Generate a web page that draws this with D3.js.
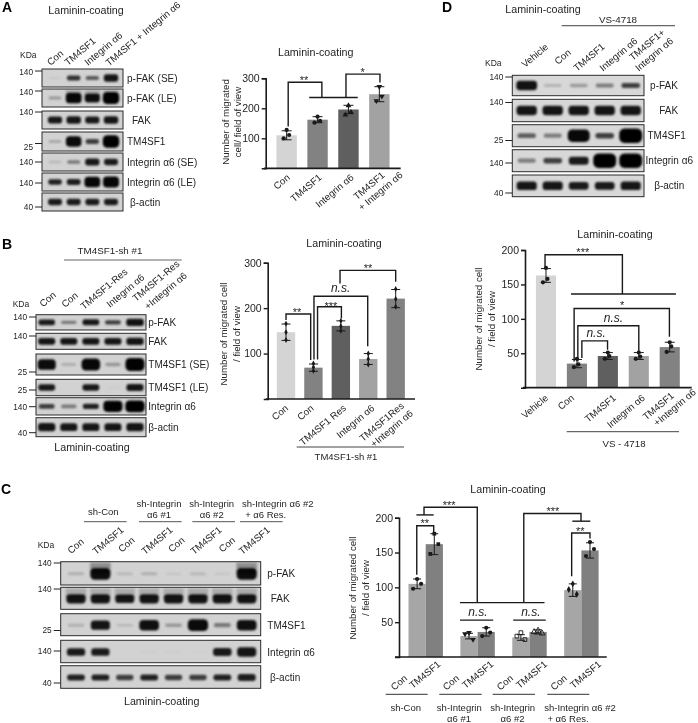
<!DOCTYPE html>
<html>
<head>
<meta charset="utf-8">
<script src="https://cdn.jsdelivr.net/npm/d3@7"></script>
<style>
  html, body { margin: 0; padding: 0; background: #fff; }
  svg { display: block; }
  text { font-family: "Liberation Sans", Arial, sans-serif; fill: #222; opacity: .99; }
</style>
</head>
<body>
<div id="fig"></div>
<script>
// ---- data ----
const aCats = ["Con", "TM4SF1", "Integrin α6", "TM4SF1|+ Integrin α6"];
const aMeans = [110, 162, 196, 247];
const aSds = [15, 10, 14, 25];
const aPoints = [[128, 111, 100], [172, 158, 152], [209, 187, 178], [272, 240, 225]];
const aTicks = [100, 200, 300];

const bCats = ["Con", "Con", "TM4SF1 Res", "Integrin α6", "TM4SF1Res|+Integrin α6"];
const bMeans = [147, 69, 161, 88, 221];
const bSds = [18, 8, 11, 12, 20];
const bPoints = [[166, 147, 130], [78, 70, 62], [172, 160, 150], [100, 88, 76], [242, 220, 203]];
const bTicks = [100, 200, 300];

const dCats = ["Vehicle", "Con", "TM4SF1", "Integrin α6", "TM4SF1|+Integrin α6"];
const dMeans = [163, 35, 46, 46, 59];
const dSds = [10, 6, 5, 5, 7];
const dPoints = [[174, 158, 153], [42, 34, 30], [51, 46, 42], [51, 45, 42], [66, 60, 52]];
const dTicks = [50, 100, 150, 200];

const cGroups = ["sh-Con", "sh-Integrin α6 #1", "sh-Integrin α6 #2", "sh-Integrin α6 #2 + α6 Res."];
const cCats = ["Con", "TM4SF1"];
const cMeans = [105, 162, 30, 36, 28, 36, 96, 153];
const cSds = [7, 15, 4, 6, 4, 3, 9, 11];
const cPoints = [[112, 105, 98], [177, 162, 148], [35, 25, 33], [42, 35, 30], [35, 25, 30], [38, 34, 36], [105, 90, 97], [165, 155, 145]];
const cTicks = [50, 100, 150, 200];

// band strength per lane, 0 = nothing, 1 = saturated
const aBlotNames = ["p-FAK (SE)", "p-FAK (LE)", "FAK", "TM4SF1", "Integrin α6 (SE)", "Integrin α6 (LE)", "β-actin"];
const aBands = [
  [.03, .32, .25, .55], [.15, .85, .7, 1], [.5, .55, .5, .55], [.12, .8, .3, 1],
  [.08, .2, .5, .45], [.35, .4, .85, .9], [.45, .45, .45, .45]];
const aKda = ["140", "140", "140", "25", "140", "140", "40"];

const bBlotNames = ["p-FAK", "FAK", "TM4SF1 (SE)", "TM4SF1 (LE)", "Integrin α6", "β-actin"];
const bBands = [
  [.45, .2, .5, .3, .65], [.55, .55, .55, .55, .6], [.75, .1, .85, .15, .95],
  [.5, 0, .5, .02, .55], [.3, .2, .35, .95, 1], [.6, .55, .55, .55, .6]];
const bKda = ["140", "140", "25", "25", "140", "40"];

const dBlotNames = ["p-FAK", "FAK", "TM4SF1", "Integrin α6", "β-actin"];
const dBands = [
  [.65, .1, .15, .2, .3], [.6, .6, .6, .6, .6], [.25, .2, .85, .3, 1],
  [.2, .3, .5, 1, 1], [.55, .55, .5, .5, .55]];
const dKda = ["140", "140", "25", "140", "40"];

const cBlotNames = ["p-FAK", "FAK", "TM4SF1", "Integrin α6", "β-actin"];
const cBands = [
  [.1, .75, .08, .1, .04, .08, .04, .75], [.6, .6, .55, .6, .6, .6, .6, .6],
  [.1, .6, .08, .7, .15, .8, .2, .7], [.45, .45, 0, .02, .02, .01, .5, .6],
  [.35, .35, .3, .35, .3, .3, .35, .4]];
const cKda = ["140", "140", "25", "140", "40"];
const cHalo = [[0, .7, 0, 0, 0, 0, 0, .7], [.4, .4, .4, .4, .4, .4, .4, .4]];

// brackets, as lists of [bar position, value]
const aBrackets = [
  [[.05, 139], [.05, 287], [1.14, 287], [1.14, 236]],
  [[.73, 236], [2.3, 236]],
  [[1.92, 236], [1.92, 314], [3.02, 314], [3.02, 286]]];
const aMarks = [[.56, 305, "**"], [2.46, 332, "*"]];

const bBrackets = [
  [[0, 174], [0, 187], [.9, 187], [.9, 86]],
  [[1.15, 87], [1.15, 203], [2.02, 203], [2.02, 177]],
  [[1.02, 87], [1.02, 226], [2.98, 226], [2.98, 116]],
  [[1.97, 254], [1.97, 283], [4, 283], [4, 258]]];
const bMarks = [[.4, 198.5, "**"], [1.64, 210, "***"], [1.99, 242, "n.s."], [2.99, 295, "**"]];

const dBrackets = [
  [[-.03, 176], [-.03, 193], [2.47, 193], [2.47, 136]],
  [[.81, 136], [4.2, 136]],
  [[.91, 38], [.91, 115], [3.99, 115], [3.99, 74]],
  [[1.03, 38], [1.03, 90], [3, 90], [3, 53]],
  [[1.16, 43], [1.16, 68], [1.99, 68], [1.99, 55]]];
const dMarks = [[1.19, 201, "***"], [2.46, 123.5, "*"], [2.18, 100, "n.s."], [1.62, 77.5, "n.s."]];

const cBrackets = [
  [[-.02, 118], [-.02, 188.5], [.96, 188.5], [.96, 178]],
  [[-.04, 204], [.96, 204]],
  [[.4, 204], [.4, 215], [3.48, 215], [3.48, 78]],
  [[2.48, 78], [7.37, 78]],
  [[6.17, 78], [6.17, 206], [9.48, 206], [9.48, 195]],
  [[8.98, 195], [10.02, 195]],
  [[8.94, 116], [8.94, 178], [10, 178], [10, 170]],
  [[2.48, 53], [4.4, 53]],
  [[5.56, 53], [7.44, 53]]];
const cMarks = [[1.85, 223, "***"], [.44, 196, "**"], [7.85, 213, "***"], [9.44, 185, "**"], [3.52, 63, "n.s."], [6.58, 63, "n.s."]];

// ---- drawing ----
const svg = d3.select("#fig").append("svg").attr("width", 698).attr("height", 723);
const defs = svg.append("defs");
defs.append("filter").attr("id", "blur").attr("x", "-30%").attr("y", "-60%").attr("width", "160%").attr("height", "220%")
  .append("feGaussianBlur").attr("stdDeviation", 0.8);

const ink = "#1a1a1a";

function txt(x, y, s, o) {
  o = o || {};
  let t = svg.append("text")
    .attr("x", x).attr("y", y)
    .attr("font-size", o.size || 10)
    .attr("text-anchor", o.anchor || "start")
    .text(s);
  if (o.rot) t.attr("transform", "rotate(" + o.rot + "," + x + "," + y + ")");
  if (o.mid) t.attr("dy", ".35em");
  if (o.weight) t.attr("font-weight", o.weight);
  return t;
}

function hline(x0, x1, y, color, w) {
  svg.append("line").attr("x1", x0).attr("x2", x1).attr("y1", y).attr("y2", y)
    .attr("stroke", color || "#555").attr("stroke-width", w || 1);
}

const alpha = d3.scaleLinear().domain([0, .12, .35, 1]).range([0, .2, .85, 1]);

function blot(o) {
  let lane = d3.scalePoint().domain(d3.range(o.bands[0].length)).range([o.lane0, o.lane1]);
  let step = lane.step();
  o.rows.forEach((r, i) => {
    let h = r[1] - r[0];
    let g = svg.append("g");
    g.append("rect").attr("x", o.left).attr("y", r[0]).attr("width", o.right - o.left).attr("height", h)
      .attr("fill", o.bg || "#d2d2d2");
    let cy = (r[0] + r[1]) / 2 + (o.shift || 0);
    let bandG = g.append("g").attr("filter", "url(#blur)");
    // smear above the strong bands
    if (o.halo && o.halo[i]) {
      bandG.selectAll(".halo").data(o.halo[i]).join("rect").attr("class", "halo")
        .attr("x", (d, j) => lane(j) - step * .42).attr("width", step * .84)
        .attr("y", r[0] + 1).attr("height", h * .5)
        .attr("fill", "#333").attr("opacity", d => d * .6);
    }
    bandG.selectAll(".band").data(o.bands[i]).join("rect").attr("class", "band")
      .attr("x", (d, j) => lane(j) - step * (.32 + .12 * d))
      .attr("width", d => step * (.64 + .24 * d))
      .attr("y", d => cy - (.8 + d * h * .29))
      .attr("height", d => 1.6 + d * h * .58)
      .attr("rx", d => .8 + d * h * .2)
      .attr("fill", "#000")
      .attr("opacity", d => alpha(d));
    g.append("rect").attr("x", o.left).attr("y", r[0]).attr("width", o.right - o.left).attr("height", h)
      .attr("fill", "none").attr("stroke", "#2b2b2b").attr("stroke-width", 1);
    // row name
    txt(o.nameX[i], cy, o.names[i], { size: 10, mid: true, anchor: o.nameAnchor || "start" });
    // kDa marker
    hline(o.left - o.tick, o.left, o.kdaY[i], "#222", 1);
    txt(o.left - o.tick - 2, o.kdaY[i] + (o.kdaDy ? o.kdaDy[i] : 0), o.kda[i], { size: 8.3, mid: true, anchor: "end" });
  });
  txt(o.kdaLabel[0], o.kdaLabel[1], "KDa", { size: 8.5, mid: true });
}

function heads(list, rot) {
  list.forEach(d => txt(d[0], d[1], d[2], { size: 9.7, rot: rot || -40 }));
}

function barChart(o) {
  let y = d3.scaleLinear().domain([0, o.yMax]).range([o.y0, o.y1]);
  let pos = o.pos;
  let g = svg.append("g");

  g.selectAll(".bar").data(o.means).join("rect").attr("class", "bar")
    .attr("x", (d, i) => o.center(i) - o.barW / 2)
    .attr("width", o.barW)
    .attr("y", d => y(d))
    .attr("height", d => y(0) - y(d))
    .attr("fill", (d, i) => o.colors[i]);

  // error bars
  o.means.forEach((m, i) => {
    let cx = o.center(i);
    let lo = y(m - o.sds[i]), hi = y(m + o.sds[i]);
    let e = g.append("g").attr("stroke", ink).attr("stroke-width", 1);
    e.append("line").attr("x1", cx).attr("x2", cx).attr("y1", lo).attr("y2", hi);
    e.append("line").attr("x1", cx - o.cap).attr("x2", cx + o.cap).attr("y1", lo).attr("y2", lo);
    e.append("line").attr("x1", cx - o.cap).attr("x2", cx + o.cap).attr("y1", hi).attr("y2", hi);
    // points
    o.points[i].forEach((v, k) => {
      let sym = o.symbols ? o.symbols[i] : d3.symbolCircle;
      let open = o.open && o.open[i];
      g.append("path")
        .attr("d", d3.symbol().type(sym).size(o.ptSize || 14)())
        .attr("transform", "translate(" + (cx + o.jitter[k]) + "," + y(v) + ")" + (o.flip && o.flip[i] ? " rotate(180)" : ""))
        .attr("fill", open ? "none" : ink)
        .attr("stroke", ink).attr("stroke-width", open ? 0.9 : 0);
    });
  });

  // axes
  let yAxis = d3.axisLeft(y).tickValues(o.ticks).tickSize(4).tickPadding(2);
  let ag = svg.append("g").attr("transform", "translate(" + o.axisX + ",0)").call(yAxis);
  ag.select(".domain").attr("stroke", ink).attr("stroke-width", 1.6);
  ag.selectAll(".tick line").attr("stroke", ink).attr("stroke-width", 1.4);
  ag.selectAll("text").attr("font-size", 10.5).attr("font-family", null).attr("fill", "#222");
  hline(o.baseL, o.baseR, y(0), ink, 1.7);

  // category labels
  o.labels.forEach((lab, i) => {
    let parts = lab.split("|");
    let lx = o.center(i) + (o.labelDx ? o.labelDx[i] : 4);
    let ly = y(0) + (Array.isArray(o.labelDy) ? o.labelDy[i] : (o.labelDy || 8));
    let t = svg.append("text").attr("text-anchor", "end").attr("font-size", 9.7)
      .attr("transform", "translate(" + lx + "," + ly + ") rotate(-40)");
    t.append("tspan").attr("x", 0).attr("dy", parts.length > 1 ? 0 : "0.3em").text(parts[0]);
    if (parts[1]) t.append("tspan").attr("x", o.line2Dx).attr("dy", 11.5).text(parts[1]);
  });

  // significance brackets
  let line = d3.line().x(d => pos(d[0])).y(d => y(d[1]));
  o.brackets.forEach(b => {
    svg.append("path").attr("d", line(b)).attr("fill", "none").attr("stroke", ink).attr("stroke-width", 1.4);
  });
  o.marks.forEach(m => {
    let ns = m[2] === "n.s.";
    let t = txt(pos(m[0]), y(m[1]), m[2], { size: ns ? 12 : 11, anchor: "middle" }).attr("dy", ns ? ".26em" : ".62em");
    if (ns) t.attr("font-style", "italic");
  });

  // title + y title
  txt(o.title[0], o.title[1], "Laminin-coating", { size: 10.7, anchor: "middle" });
  o.yTitle.forEach(l => txt(l[0], l[1], l[2], { size: 9.7, anchor: "middle", rot: -90 }));
}

function bandChart(cats, means, sds, points, ticks, cfg) {
  let x = d3.scaleBand().domain(d3.range(cats.length)).range(cfg.range).paddingInner(cfg.inner).paddingOuter(cfg.inner / 2);
  let center = i => x(i) + x.bandwidth() / 2;
  let pos = d3.scaleLinear().domain([0, cats.length - 1]).range([center(0), center(cats.length - 1)]);
  barChart(Object.assign({ center: center, pos: pos, barW: x.bandwidth(), means: means, sds: sds, points: points, ticks: ticks, labels: cats }, cfg));
}

// panel letters
[["A", 2, 11.5], ["B", 2, 249], ["C", 1, 494], ["D", 442, 12]].forEach(d => txt(d[1], d[2], d[0], { size: 14, weight: "bold" }).style("fill", "#000"));

// ---- panel A ----
txt(86, 14, "Laminin-coating", { size: 10.7, anchor: "middle" });
heads([[50.5, 66, "Con"], [68, 66, "TM4SF1"], [88, 66, "Integrin α6"], [109, 66.5, "TM4SF1 + Integrin α6"]]);
blot({
  left: 42, right: 123, lane0: 55, lane1: 111, tick: 7,
  rows: [[69, 87], [89, 107], [111, 129], [132, 151], [153, 171], [173, 191], [193, 211]],
  bands: aBands, names: aBlotNames, kda: aKda,
  halo: [null, [0, .4, .4, .4]],
  nameX: [127, 127, 132, 127, 127, 127, 130],
  kdaY: [71, 91, 112, 143.5, 162, 183, 207],
  kdaDy: [1, 1, 0, 3.5, 0, 0, 0],
  kdaLabel: [20, 55]
});
bandChart(aCats, aMeans, aSds, aPoints, aTicks, {
  range: [271.2, 394.8], inner: .34, yMax: 300, y0: 168.3, y1: 78.3, axisX: 265.7,
  baseL: 264, baseR: 400.7, cap: 5, jitter: [0, 2.5, -3],
  symbols: [d3.symbolCircle, d3.symbolCircle, d3.symbolTriangle, d3.symbolTriangle], flip: [0, 0, 0, 1],
  colors: ["#d4d4d4", "#828282", "#5f5f5f", "#a2a2a2"],
  brackets: aBrackets, marks: aMarks, line2Dx: 14, labelDx: [2, 3, 4, 6],
  title: [315.7, 55.7],
  yTitle: [[229, 122, "Number of migrated"], [241, 122, "cell/ field of view"]]
});

// ---- panel B ----
txt(110, 254, "TM4SF1-sh #1", { size: 9.8, anchor: "middle" });
hline(64, 181.7, 260, "#666", 1.2);
heads([[43, 307.5, "Con"], [65, 308, "Con"], [84, 310, "TM4SF1-Res"], [110, 308, "Integrin α6"], [136, 302, "TM4SF1-Res"], [148, 310, "+Integrin α6"]]);
blot({
  left: 36, right: 146, lane0: 46.7, lane1: 135, tick: 7,
  rows: [[314.7, 330], [333.3, 349.3], [354, 375], [379.3, 395.7], [397.7, 415], [417.7, 436.7]],
  bands: bBands, names: bBlotNames, kda: bKda,
  nameX: [148.3, 148.3, 148.3, 148.3, 148.3, 148.3],
  kdaY: [317, 336, 372, 390, 406.7, 432.7],
  kdaLabel: [12.7, 304]
});
txt(92, 450.7, "Laminin-coating", { size: 10.7, anchor: "middle" });
bandChart(bCats, bMeans, bSds, bPoints, bTicks, {
  range: [272.3, 409.4], inner: .33, yMax: 300, y0: 399, y1: 262.7, axisX: 267.7,
  baseL: 266, baseR: 415, cap: 4.5, jitter: [0, 0, 0], ptSize: 10, symbols: d3.range(5).map(() => d3.symbolDiamond),
  colors: ["#d4d4d4", "#828282", "#5f5f5f", "#a2a2a2", "#828282"],
  brackets: bBrackets, marks: bMarks, line2Dx: 2, labelDx: [1, -1, 4, 5, 9],
  title: [344, 247],
  yTitle: [[227, 334, "Number of migrated cell"], [240, 334, "/ field of view"]]
});
hline(296.7, 404, 447, "#444", 1);
txt(346, 460, "TM4SF1-sh #1", { size: 9.5, anchor: "middle" });

// ---- panel D ----
txt(543, 12.7, "Laminin-coating", { size: 10.7, anchor: "middle" });
txt(618, 22.7, "VS-4718", { size: 9.8, anchor: "middle" });
hline(561.7, 675, 25.7, "#666", 1.2);
heads([[525, 68, "Vehicle"], [558, 65, "Con"], [577, 71.7, "TM4SF1"], [603, 71.7, "Integrin α6"], [632.7, 61, "TM4SF1+"], [638.7, 71.7, "Integrin α6"]]);
blot({
  left: 512.3, right: 644, lane0: 526.7, lane1: 630.7, tick: 7, bg: "#d8d8d8",
  rows: [[75.3, 95.7], [99.3, 121.7], [124.7, 146.7], [149.7, 171.7], [175, 196.7]],
  bands: dBands, names: dBlotNames, kda: dKda,
  nameX: [664, 668.7, 666.7, 669.3, 669.3], nameAnchor: "middle",
  kdaY: [77, 102.5, 140.5, 163, 193],
  kdaLabel: [485, 63]
});
bandChart(dCats, dMeans, dSds, dPoints, dTicks, {
  range: [530.5, 685.2], inner: .35, yMax: 200, y0: 387.7, y1: 250, axisX: 525,
  baseL: 523, baseR: 691.7, cap: 5, jitter: [0, 1.5, -3],
  colors: ["#d4d4d4", "#828282", "#5f5f5f", "#a2a2a2", "#828282"],
  brackets: dBrackets, marks: dMarks, line2Dx: 19, labelDx: [1, -4, 7, 5, 5], labelDy: 9,
  title: [615, 238],
  yTitle: [[482, 319, "Number of migrated cell"], [494.7, 319, "/ field of view"]]
});
hline(566.7, 679, 431.7, "#444", 1);
txt(624, 447, "VS - 4718", { size: 9.7, anchor: "middle" });

// ---- panel C ----
[[103.3, 515, "sh-Con"], [159, 506.7, "sh-Integrin"], [159, 518.3, "α6 #1"], [211.7, 506.7, "sh-Integrin"], [211.7, 518.3, "α6 #2"], [277.7, 506.7, "sh-Integrin α6 #2"], [265.7, 518.3, "+ α6  Res."]]
  .forEach(d => txt(d[0], d[1], d[2], { size: 9.5, anchor: "middle" }));
[[84, 126.7], [139, 181.7], [192.3, 235], [240, 282.7]].forEach(d => hline(d[0], d[1], 521.7, "#555", 1));
heads([[71, 554.3, "Con"], [96, 555, "TM4SF1"], [121.7, 552.7, "Con"], [145, 555, "TM4SF1"], [171.7, 552.7, "Con"], [194, 555, "TM4SF1"], [222.3, 552.7, "Con"], [242.3, 555, "TM4SF1"]]);
blot({
  left: 60.7, right: 260.7, lane0: 76, lane1: 246.7, tick: 7,
  rows: [[561.7, 585], [587.3, 609.3], [613.7, 635.7], [640.3, 662.7], [665.7, 688.3]],
  bands: cBands, names: cBlotNames, kda: cKda, halo: cHalo, shift: 0.5,
  nameX: [267.3, 270.7, 267.3, 267.3, 270],
  kdaY: [563, 589, 630.5, 651, 683],
  kdaLabel: [37.7, 545]
});
txt(161.7, 705.3, "Laminin-coating", { size: 10.7, anchor: "middle" });

// grouped bars of panel C use two band scales
const cOuter = d3.scaleBand().domain(cGroups).range([408.5, 598.6]).paddingInner(0.337).paddingOuter(0);
const cInner = d3.scaleBand().domain(cCats).range([0, cOuter.bandwidth()]);
const cCenter = i => cOuter(cGroups[Math.floor(i / 2)]) + cInner(cCats[i % 2]) + cInner.bandwidth() / 2;
const cPos = d3.scaleLinear().domain([0, 10]).range([cCenter(0), cCenter(7)]);
barChart({
  center: cCenter, pos: cPos, barW: cInner.bandwidth(),
  means: cMeans, sds: cSds, points: cPoints, ticks: cTicks, labels: cMeans.map((d, i) => cCats[i % 2]),
  yMax: 200, y0: 657, y1: 517.7, axisX: 399,
  baseL: 395, baseR: 606.7, cap: 4, jitter: [0, 4, -4], ptSize: 14,
  symbols: [d3.symbolCircle, d3.symbolSquare, d3.symbolTriangle, d3.symbolCircle, d3.symbolSquare, d3.symbolTriangle, d3.symbolDiamond, d3.symbolCircle],
  open: [0, 0, 0, 0, 1, 1, 0, 0], flip: [0, 0, 1, 0, 0, 0, 0, 0],
  colors: ["#a6a6a6", "#808080", "#a6a6a6", "#808080", "#a6a6a6", "#808080", "#a6a6a6", "#808080"],
  brackets: cBrackets, marks: cMarks, line2Dx: 0,
  labelDx: [-11, 5, -11, 6, -9, 8, -7, 10],
  labelDy: [20, 6, 20, 6, 20, 6, 20, 6],
  title: [508, 493],
  yTitle: [[356, 588, "Number of migrated cell"], [369, 588, "/ field of view"]]
});
[[385.7, 427.7], [439.3, 481.7], [492.7, 535], [547.3, 589.3]].forEach(d => hline(d[0], d[1], 694.3, "#333", 1));
[[405.7, 711, "sh-Con"], [459.3, 711, "sh-Integrin"], [459, 721.7, "α6 #1"], [512.7, 711, "sh-Integrin"], [512.5, 721.7, "α6 #2"], [580, 711, "sh-Integrin α6 #2"], [568, 721.7, "+ α6  Res."]]
  .forEach(d => txt(d[0], d[1], d[2], { size: 9.5, anchor: "middle" }));
</script>
</body>
</html>
